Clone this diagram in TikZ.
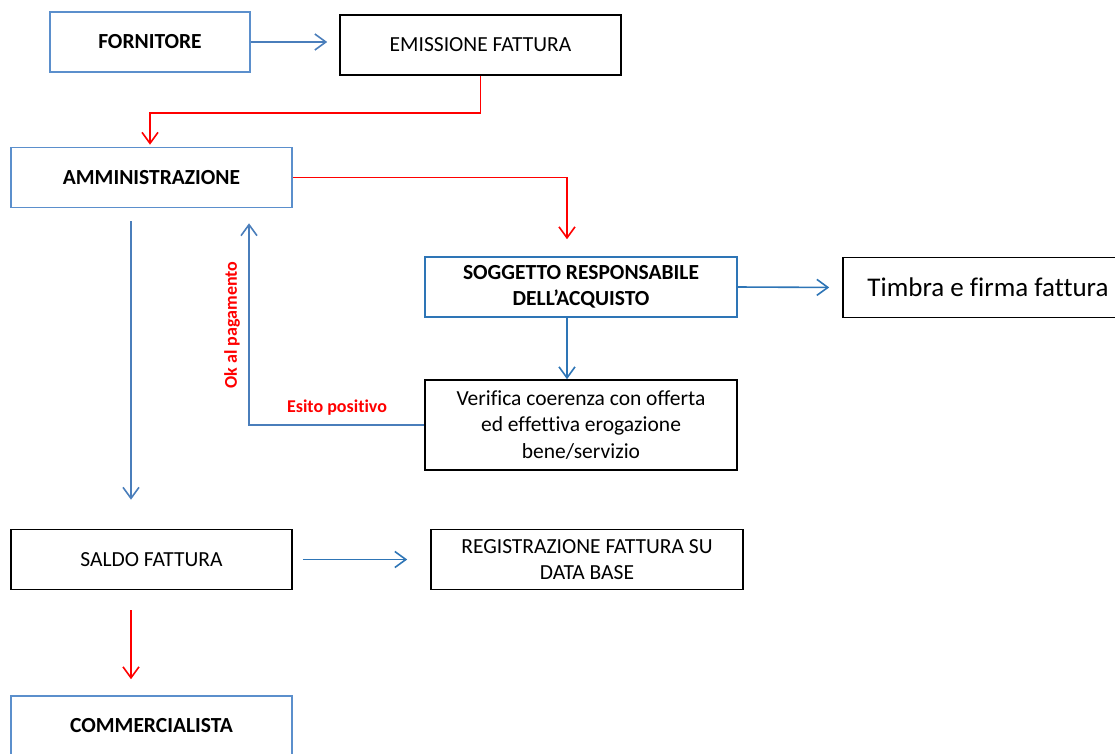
\documentclass[tikz,border=0pt]{standalone}
\usepackage{fontspec}
\setmainfont{Carlito}[Ligatures=NoCommon]
\usetikzlibrary{arrows.meta}
\definecolor{boxblue}{HTML}{5B8FCC}
\definecolor{darkblue}{HTML}{2E75B6}
\definecolor{lineblue}{HTML}{4A7EBB}
\tikzset{
  box/.style={draw, line width=1.6pt, minimum width=281pt, minimum height=60pt,
    align=center, inner sep=0pt, font=\fontsize{21.5}{26.5}\selectfont},
  arr/.style={line width=1.6pt, -{Straight Barb[length=11pt,width=16pt,line width=1.6pt]}},
  lbl/.style={text=red, font=\fontsize{18}{20}\selectfont\bfseries}
}
\begin{document}
\begin{tikzpicture}[x=1pt,y=-1pt]
\clip (0,0) rectangle (1115,753);
\node[box,boxblue,text=black,minimum width=200pt,font=\fontsize{21.5}{26.5}\selectfont\bfseries] (fornitore) at (150,42) {FORNITORE};
\node[box] (emissione) at (480.5,45) {EMISSIONE FATTURA};
\node[box,boxblue,text=black,font=\fontsize{21.5}{26.5}\selectfont\bfseries] (amm) at (151.5,177.5) {AMMINISTRAZIONE};
\node[box,darkblue,text=black,minimum width=312pt,font=\fontsize{21.5}{26.5}\selectfont\bfseries] (sogg) at (581,287) {SOGGETTO RESPONSABILE\\DELL’ACQUISTO};
\node[box,minimum width=290pt,font=\fontsize{27}{32}\selectfont] (timbra) at (988,287.5) {Timbra e firma fattura};
\node[box,minimum width=312pt,minimum height=90pt] (verifica) at (581,425) {Verifica coerenza con offerta\\ed effettiva erogazione\\bene/servizio};
\node[box] (saldo) at (151.5,559.5) {SALDO FATTURA};
\node[box,minimum width=312pt,font=\fontsize{21.5}{26}\selectfont] (reg) at (587,559.5) {REGISTRAZIONE FATTURA SU\\DATA BASE};
\node[box,boxblue,text=black,font=\fontsize{21.5}{26.5}\selectfont\bfseries] (comm) at (151.5,726) {COMMERCIALISTA};
\draw[arr,lineblue,shorten >=12pt] (fornitore.east) -- (fornitore.east -| emissione.west);
\draw[arr,red,shorten >=2pt] (emissione.south) -- ++(0,37) -| ([xshift=-1.5pt]amm.north);
\draw[arr,red,shorten >=17pt] (amm.east) -| ([xshift=-14pt]sogg.north);
\draw[arr,darkblue,shorten >=13pt] (sogg.east) -- (timbra.west);
\draw[arr,darkblue] ([xshift=-14pt]sogg.south) -- ([xshift=-14pt]verifica.north);
\draw[arr,lineblue,shorten >=15pt] (verifica.west) -| ([xshift=97.5pt]amm.south);
\draw[arr,lineblue,shorten <=13pt,shorten >=29pt] ([xshift=-20.5pt]amm.south) -- ([xshift=-20.5pt]saldo.north);
\draw[arr,darkblue,shorten <=10pt,shorten >=23pt] (saldo.east) -- (reg.west);
\draw[arr,red,shorten <=20pt,shorten >=16pt] ([xshift=-20.5pt]saldo.south) -- ([xshift=-20.5pt]comm.north);
\node[lbl] (esito) at (337,408) {Esito positivo};
\node[lbl,rotate=90] (ok) at (232,325) {Ok al pagamento};
\end{tikzpicture}
\end{document}
